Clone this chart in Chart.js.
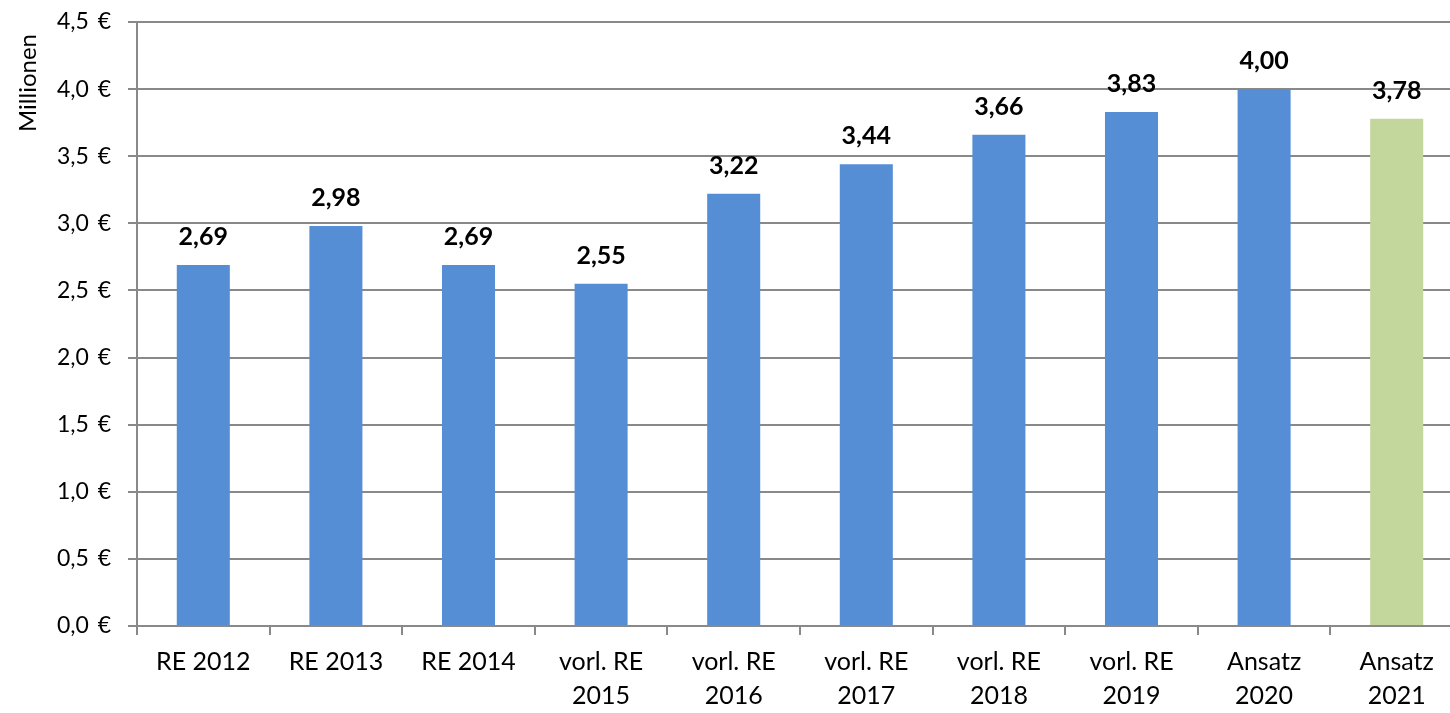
<!DOCTYPE html>
<html><head><meta charset="utf-8">
<script src="https://cdn.jsdelivr.net/npm/chart.js@4/dist/chart.umd.min.js"></script>
<style>html,body{margin:0;padding:0;background:#fff;overflow:hidden}#wrap{width:1463px;height:713px}</style>
</head><body><div id="wrap"><canvas id="c"></canvas></div>
<script>
const categories = [["RE 2012"],["RE 2013"],["RE 2014"],["vorl. RE","2015"],["vorl. RE","2016"],["vorl. RE","2017"],["vorl. RE","2018"],["vorl. RE","2019"],["Ansatz","2020"],["Ansatz","2021"]];
const values = [2.69, 2.98, 2.69, 2.55, 3.22, 3.44, 3.66, 3.83, 4.00, 3.78];
const barColors = ["#558ED5","#558ED5","#558ED5","#558ED5","#558ED5","#558ED5","#558ED5","#558ED5","#558ED5","#C3D69B"];
const yTitle = "Millionen\u2002";
const FONT = "Lato, 'Open Sans', sans-serif";

const labelPlugin = {
  id: 'valLabels',
  afterDatasetsDraw(chart) {
    const ctx = chart.ctx;
    const meta = chart.getDatasetMeta(0);
    ctx.save();
    ctx.font = "bold 25px " + FONT;
    ctx.fillStyle = "#000";
    ctx.textAlign = "center";
    ctx.textBaseline = "alphabetic";
    meta.data.forEach((bar, i) => {
      const txt = values[i].toFixed(2).replace('.', ',');
      ctx.fillText(txt, bar.x, bar.y - 20);
    });
    ctx.restore();
  }
};

new Chart(document.getElementById('c'), {
  type: 'bar',
  data: {
    labels: categories,
    datasets: [{ data: values, backgroundColor: barColors, barPercentage: 0.4, categoryPercentage: 1.0 }]
  },
  options: {
    responsive: true, maintainAspectRatio: false, animation: false,
    layout: { padding: { top: 22, right: 0, left: 0, bottom: 0 } },
    plugins: { legend: { display: false }, tooltip: { enabled: false } },
    scales: {
      y: {
        min: 0, max: 4.5,
        ticks: { stepSize: 0.5, color: "#000", font: { size: 23, family: FONT }, padding: 17,
          callback: v => v.toFixed(1).replace('.', ',') + "\u00A0\u2009€" },
        grid: { color: "#898989", lineWidth: 2, tickLength: 9 },
        border: { color: "#898989", width: 2 },
        title: { display: true, text: yTitle, align: 'end', color: "#000", font: { size: 24, family: FONT }, padding: { top: 14, bottom: 0 } },
        afterFit(s) { s.width = 137; s.paddingTop = 0; s.paddingBottom = 0; }
      },
      x: {
        ticks: { color: "#000", font: { size: 25, family: FONT, lineHeight: 1.36 }, padding: 10, maxRotation: 0, autoSkip: false },
        grid: { offset: true, drawOnChartArea: false, color: "#898989", lineWidth: 2, tickLength: 9 },
        border: { color: "#898989", width: 2 },
        afterFit(s) { s.height = 87; s.paddingLeft = 0; s.paddingRight = 0; }
      }
    }
  },
  plugins: [labelPlugin]
});
</script></body></html>
